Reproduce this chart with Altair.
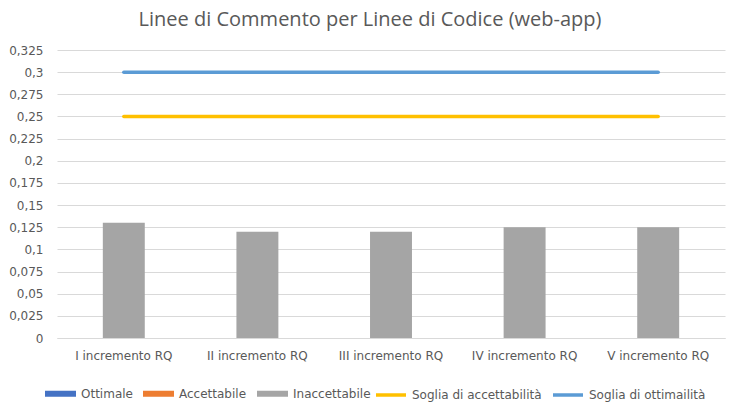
import altair as alt
import pandas as pd

categorie = ["I incremento RQ", "II incremento RQ", "III incremento RQ",
             "IV incremento RQ", "V incremento RQ"]
inaccettabile = [0.13, 0.12, 0.12, 0.125, 0.125]
soglia_accettabilita = [0.25, 0.25, 0.25, 0.25, 0.25]
soglia_ottimalita = [0.3, 0.3, 0.3, 0.3, 0.3]
y_ticks = [0, 0.025, 0.05, 0.075, 0.1, 0.125, 0.15, 0.175, 0.2, 0.225,
           0.25, 0.275, 0.3, 0.325]

serie_barre = ["Ottimale", "Accettabile", "Inaccettabile"]
colori_barre = ["#4472C4", "#ED7D31", "#A5A5A5"]
serie_linee = ["Soglia di accettabilità", "Soglia di ottimailità"]
colori_linee = ["#FFC000", "#5B9BD5"]

bar_df = pd.DataFrame({"cat": categorie, "valore": inaccettabile,
                       "serie": ["Inaccettabile"] * len(categorie)})
line_df = pd.DataFrame({
    "cat": categorie + categorie,
    "valore": soglia_accettabilita + soglia_ottimalita,
    "serie": [serie_linee[0]] * len(categorie) + [serie_linee[1]] * len(categorie),
})

FONT = "DejaVu Sans"
TFONT = "Open Sans"
GREY = "#595959"

x_enc = alt.X("cat:N", sort=categorie,
              scale=alt.Scale(paddingInner=0.686, paddingOuter=0.343),
              axis=alt.Axis(title=None, labelAngle=0, ticks=False,
                            domainColor="#D9D9D9", domainWidth=1,
                            labelPadding=12, labelFont=FONT, labelFontSize=12,
                            labelColor=GREY, grid=False))
y_enc = alt.Y("valore:Q",
              scale=alt.Scale(domain=[0, 0.325], nice=False, zero=True),
              axis=alt.Axis(title=None, values=y_ticks, ticks=False, domain=False,
                            grid=True, gridColor="#D9D9D9", gridWidth=1,
                            labelOverlap=False, labelBound=False,
                            labelPadding=14, labelFont=FONT, labelFontSize=12,
                            labelColor=GREY,
                            labelExpr="replace(format(datum.value, '.3~f'), '.', ',')"))

bars = alt.Chart(bar_df).mark_bar().encode(
    x=x_enc,
    y=y_enc,
    fill=alt.Fill("serie:N",
                  scale=alt.Scale(domain=serie_barre, range=colori_barre),
                  legend=alt.Legend(title=None, orient="none", legendX=-12, legendY=328,
                                    direction="horizontal",
                                    symbolType="M-1,-0.194H1V0.194H-1Z",
                                    symbolSize=961, symbolStrokeWidth=0,
                                    labelOffset=5, columnPadding=10,
                                    labelFont=FONT, labelFontSize=12,
                                    labelColor=GREY)),
)

lines = alt.Chart(line_df).mark_line(strokeWidth=3.5, strokeCap="round").encode(
    x=x_enc,
    y=y_enc,
    stroke=alt.Stroke("serie:N",
                      scale=alt.Scale(domain=serie_linee, range=colori_linee),
                      legend=alt.Legend(title=None, orient="none", legendX=317, legendY=328,
                                        direction="horizontal", symbolType="M-1,0H1",
                                        symbolSize=900, symbolStrokeWidth=3.5,
                                        labelOffset=4, columnPadding=4,
                                        labelFont=FONT, labelFontSize=12,
                                        labelColor=GREY)),
)

chart = alt.layer(bars, lines).properties(
    width=668,
    height=288,
    autosize=alt.AutoSizeParams(type="none"),
    padding={"left": 57, "top": 50, "right": 13, "bottom": 72},
    background="white",
    title=alt.TitleParams(
        "Linee di Commento per Linee di Codice (web-app)",
        font=TFONT, fontSize=20, fontWeight="normal", color=GREY,
        anchor="middle", frame="group", dx=-21, dy=16, baseline="alphabetic", offset=14,
    ),
).configure_view(stroke=None)

chart.save("out.html", embed_options={"renderer": "svg", "actions": False})
